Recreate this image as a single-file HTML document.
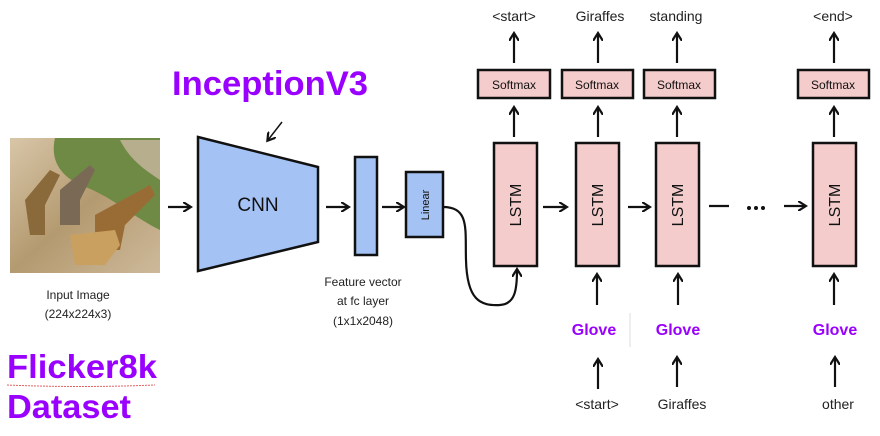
<!DOCTYPE html>
<html><head><meta charset="utf-8"><style>
html,body{margin:0;padding:0;background:#fff;width:880px;height:436px;overflow:hidden}
</style></head><body>
<svg width="880" height="436" viewBox="0 0 880 436" xmlns="http://www.w3.org/2000/svg" font-family="Liberation Sans, sans-serif">
<defs>
<marker id="a" markerWidth="10" markerHeight="10" refX="7" refY="5" orient="auto" markerUnits="userSpaceOnUse"><path d="M0,0 L8,5 L0,10" fill="none" stroke="#111" stroke-width="2.2"/></marker>
<linearGradient id="g" x1="0" y1="0" x2="1" y2="1"><stop offset="0" stop-color="#d8c6a8"/><stop offset="0.5" stop-color="#b49a70"/><stop offset="1" stop-color="#cdb99a"/></linearGradient>
</defs>
<rect x="10" y="138" width="150" height="135" fill="url(#g)"/>
<path d="M55,138 L160,138 L160,230 C130,215 110,195 80,185 C60,175 50,160 55,138Z" fill="#6f8a45"/>
<path d="M120,140 L160,140 L160,180 C145,170 130,160 120,140Z" fill="#b6ae8c"/>
<path d="M25,200 L50,170 L60,175 L45,205 L45,235 L30,235Z" fill="#8a6a3a"/>
<path d="M60,190 L90,165 L95,170 L80,200 L80,225 L60,225Z" fill="#7a6a55"/>
<path d="M95,215 L150,185 L155,195 L125,225 L120,250 L95,250Z" fill="#9a6c35"/>
<path d="M70,235 L115,230 L120,245 L105,265 L75,265Z" fill="#c9a060"/>
<text x="172" y="95" font-size="34" font-weight="bold" fill="#9900ff" textLength="196" lengthAdjust="spacingAndGlyphs">InceptionV3</text>
<line x1="282" y1="122" x2="268" y2="140" stroke="#111" stroke-width="1.5" marker-end="url(#a)"/>
<polygon points="198,137 318,167 318,242 198,271" fill="#a4c2f4" stroke="#111" stroke-width="2.5"/>
<text x="258" y="211" font-size="19" text-anchor="middle" fill="#111">CNN</text>
<rect x="355" y="157" width="22" height="98" fill="#a4c2f4" stroke="#111" stroke-width="2.5"/>
<rect x="406" y="172" width="37" height="65" fill="#a4c2f4" stroke="#111" stroke-width="2.5"/>
<text transform="translate(429,205) rotate(-90)" font-size="11" text-anchor="middle" fill="#111">Linear</text>
<g stroke="#111" stroke-width="2.2" marker-end="url(#a)">
<line x1="168" y1="207" x2="190" y2="207"/>
<line x1="326" y1="207" x2="348" y2="207"/>
<line x1="382" y1="207" x2="403" y2="207"/>
<path d="M443,207 C470,207 465,230 466,260 C467,300 480,306 500,305 C515,304 517,290 517,270" fill="none"/>
</g>
<text x="78" y="299" font-size="12" text-anchor="middle" fill="#222">Input Image</text>
<text x="78" y="318" font-size="12" text-anchor="middle" fill="#222">(224x224x3)</text>
<text x="363" y="286" font-size="12" text-anchor="middle" fill="#222">Feature vector</text>
<text x="363" y="305" font-size="12" text-anchor="middle" fill="#222">at fc layer</text>
<text x="363" y="325" font-size="12" text-anchor="middle" fill="#222">(1x1x2048)</text>
<text x="7" y="378" font-size="33" font-weight="bold" fill="#9900ff" textLength="150" lengthAdjust="spacingAndGlyphs">Flicker8k</text>
<path d="M7,385 Q80,388 155,385" stroke="#e06060" stroke-width="1" fill="none" stroke-dasharray="2,1"/>
<text x="7" y="418" font-size="33" font-weight="bold" fill="#9900ff" textLength="124" lengthAdjust="spacingAndGlyphs">Dataset</text>
<g fill="#f4cccc" stroke="#111" stroke-width="2.5">
<rect x="478" y="70" width="72" height="28"/><rect x="562" y="70" width="71" height="28"/>
<rect x="644" y="70" width="71" height="28"/><rect x="798" y="70" width="71" height="28"/>
<rect x="494" y="143" width="43" height="123"/><rect x="576" y="143" width="43" height="123"/>
<rect x="656" y="143" width="43" height="123"/><rect x="813" y="143" width="43" height="123"/>
</g>
<g font-size="12" text-anchor="middle" fill="#111">
<text x="514" y="89">Softmax</text><text x="597" y="89">Softmax</text><text x="679" y="89">Softmax</text><text x="833" y="89">Softmax</text>
</g>
<g font-size="16" text-anchor="middle" fill="#111">
<text transform="translate(521,205) rotate(-90)">LSTM</text>
<text transform="translate(603,205) rotate(-90)">LSTM</text>
<text transform="translate(683,205) rotate(-90)">LSTM</text>
<text transform="translate(840,205) rotate(-90)">LSTM</text>
</g>
<g stroke="#111" stroke-width="2.2" marker-end="url(#a)">
<line x1="514" y1="63" x2="514" y2="34"/><line x1="598" y1="63" x2="598" y2="34"/><line x1="677" y1="63" x2="677" y2="34"/><line x1="834" y1="63" x2="834" y2="34"/>
<line x1="514" y1="137" x2="514" y2="108"/><line x1="598" y1="137" x2="598" y2="108"/><line x1="677" y1="137" x2="677" y2="108"/><line x1="834" y1="137" x2="834" y2="108"/>
<line x1="543" y1="207" x2="566" y2="207"/><line x1="628" y1="207" x2="649" y2="207"/><line x1="784" y1="206" x2="805" y2="206"/>
<line x1="597" y1="305" x2="597" y2="275"/><line x1="678" y1="305" x2="678" y2="275"/><line x1="834" y1="305" x2="834" y2="275"/>
<line x1="598" y1="389" x2="598" y2="360"/><line x1="677" y1="387" x2="677" y2="358"/><line x1="835" y1="387" x2="835" y2="358"/>
</g>
<line x1="709" y1="206" x2="729" y2="206" stroke="#111" stroke-width="2.2"/>
<g fill="#111"><circle cx="749" cy="208" r="2"/><circle cx="756" cy="208" r="2"/><circle cx="763" cy="208" r="2"/></g>
<line x1="630" y1="313" x2="630" y2="347" stroke="#ddd" stroke-width="1"/>
<g font-size="14" text-anchor="middle" fill="#222">
<text x="514" y="21">&lt;start&gt;</text><text x="600" y="21">Giraffes</text><text x="676" y="21">standing</text><text x="833" y="21">&lt;end&gt;</text>
<text x="597" y="409">&lt;start&gt;</text><text x="682" y="409">Giraffes</text><text x="838" y="409">other</text>
</g>
<g font-size="16" font-weight="bold" text-anchor="middle" fill="#9900ff">
<text x="594" y="335">Glove</text><text x="678" y="335">Glove</text><text x="835" y="335">Glove</text>
</g>
</svg>
</body></html>
